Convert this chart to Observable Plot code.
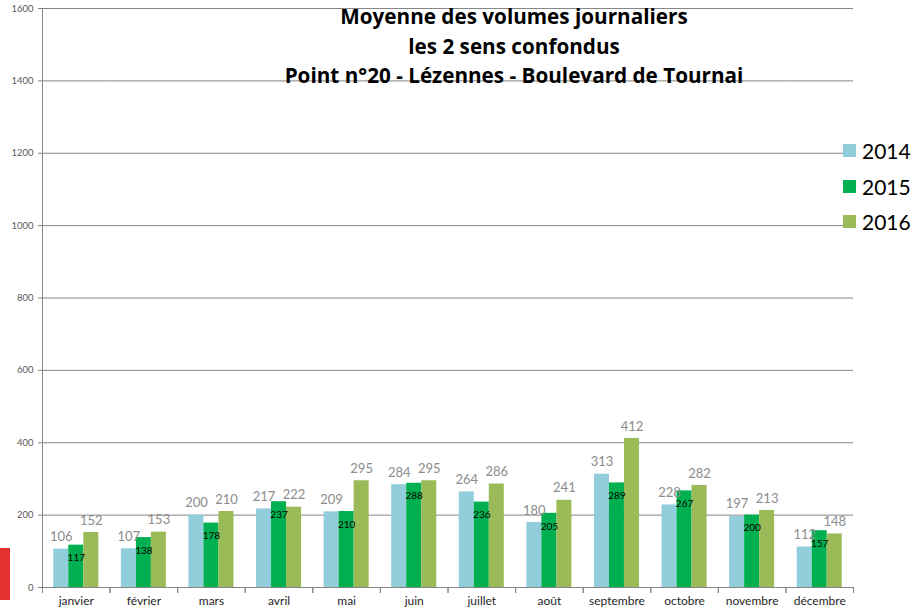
<!DOCTYPE html>
<html>
<head>
<meta charset="utf-8">
<script src="https://cdn.jsdelivr.net/npm/d3@7"></script>
<script src="https://cdn.jsdelivr.net/npm/@observablehq/plot@0.6"></script>
<style>
  html, body { margin: 0; padding: 0; background: #fff; }
  #wrap { position: relative; width: 914px; height: 613px; overflow: hidden; font-family: Lato, "Open Sans", sans-serif; }
  #title { position: absolute; left: 264px; top: 2px; width: 500px; text-align: center; font-family: "Open Sans", sans-serif; font-weight: bold; font-size: 20.7px; line-height: 29.5px; color: #000; }
  #legend { position: absolute; left: 843px; top: 133px; width: 71px; background: #fff; }
  .row { display: flex; align-items: center; height: 35.5px; font-size: 21px; color: #000; }
  .sw { width: 13px; height: 13px; margin-right: 6px; flex: none; }
  #mark { position: absolute; left: 0; top: 548px; width: 10px; height: 52px; background: #E53030; }
</style>
</head>
<body>
<div id="wrap">
  <div id="chart"></div>
  <div id="title"></div>
  <div id="legend"></div>
  <div id="mark"></div>
</div>
<script>
const months = ["janvier","février","mars","avril","mai","juin","juillet","août","septembre","octobre","novembre","décembre"];
const years = ["2014","2015","2016"];
const v2014 = [106,107,200,217,209,284,264,180,313,228,197,112];
const v2015 = [117,138,178,237,210,288,236,205,289,267,200,157];
const v2016 = [152,153,210,222,295,295,286,241,412,282,213,148];
const colors = ["#92CDDC","#00B050","#9BBB59"];
const yTicks = [0,200,400,600,800,1000,1200,1400,1600];
const titleLines = ["Moyenne des volumes journaliers","les 2 sens confondus","Point n°20 - Lézennes - Boulevard de Tournai"];

const series = [v2014, v2015, v2016];
const data = [];
months.forEach((m, i) => years.forEach((y, j) => data.push({month: m, year: y, value: series[j][i]})));
const grey = data.filter(d => d.year !== "2015");
const dark = data.filter(d => d.year === "2015");

const FONT = "Lato, 'Open Sans', sans-serif";
const chart = Plot.plot({
  width: 914,
  height: 613,
  marginLeft: 42,
  marginRight: 61,
  marginTop: 8,
  marginBottom: 26,
  style: {fontFamily: FONT, background: "transparent"},
  fx: {domain: months, padding: 0, label: null, round: false},
  x: {domain: years, paddingInner: 0, paddingOuter: 0.75, axis: null, round: false},
  y: {domain: [0, 1600], label: null},
  color: {domain: years, range: colors},
  marks: [
    Plot.gridY(yTicks, {stroke: "#868686", strokeOpacity: 1}),
    Plot.axisY(yTicks, {tickSize: 4, tickPadding: 5, fontSize: 9.5, fill: "#595959", stroke: "#868686", tickFormat: d3.format("d"), label: null}),
    Plot.frame({anchor: "left", facetAnchor: "left", stroke: "#868686"}),
    Plot.barY(data, {fx: "month", x: "year", y: "value", fill: "year"}),
    Plot.ruleY([0], {stroke: "#868686"}),
    Plot.frame({anchor: "left", stroke: "#868686", insetTop: 579, insetBottom: -5}),
    Plot.frame({anchor: "right", stroke: "#868686", insetTop: 579, insetBottom: -5}),
    Plot.axisFx({anchor: "bottom", tickSize: 0, tickPadding: 9, fontSize: 12, fill: "#262626", label: null}),
    Plot.text(grey, {fx: "month", x: "year", y: "value", text: d => String(d.value), dy: -12, fill: "#8C8C8C", fontSize: 13, lineAnchor: "middle"}),
    Plot.text(dark, {fx: "month", x: "year", y: "value", text: d => String(d.value), dy: 13, fill: "#000", fontSize: 10, lineAnchor: "middle"})
  ]
});
document.getElementById("chart").appendChild(chart);

document.getElementById("title").innerHTML = titleLines.map(t => `<div>${t}</div>`).join("");
document.getElementById("legend").innerHTML = years.map((y, i) =>
  `<div class="row"><span class="sw" style="background:${colors[i]}"></span><span>${y}</span></div>`).join("");
</script>
</body>
</html>
